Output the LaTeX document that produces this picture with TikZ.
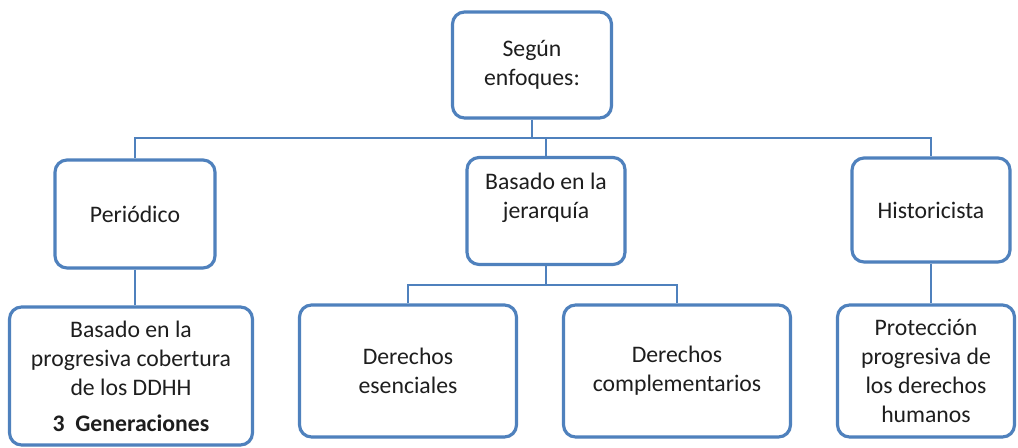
\documentclass[tikz,border=0pt]{standalone}
\usepackage{fontspec}
\setmainfont{Carlito}
\usetikzlibrary{shadows}
\definecolor{rahmen}{RGB}{79,129,189}
\definecolor{schrift}{RGB}{30,30,30}
\tikzset{
	kasten/.style={draw=rahmen, line width=1.8pt, fill=white, rounded corners=0.24cm,
		align=center, text=schrift, font=\fontsize{13.5}{16.5}\selectfont,
		drop shadow={opacity=0.2, shadow xshift=0.6pt, shadow yshift=-0.8pt}},
	linie/.style={draw=rahmen, line width=1.5pt}
}
\begin{document}
\begin{tikzpicture}[x=0.02cm, y=-0.02cm]
	\useasboundingbox (0,0) rectangle (1018,448);
	% Ebene oben
	\node[kasten, minimum width=3.18cm, minimum height=2.12cm] (root) at (532,65) {Según\\enfoques:};
	% Ebene Mitte
	\node[kasten, minimum width=3.2cm, minimum height=2.16cm] (periodico) at (135,214) {Periódico};
	\node[kasten, minimum width=3.16cm, minimum height=2.14cm] (jerarquia) at (546,211) {Basado en la\\jerarquía\\[-0.3em]\strut};
	\node[kasten, minimum width=3.16cm, minimum height=2.08cm] (historicista) at (931,210) {Historicista};
	% Ebene unten
	\node[kasten, minimum width=4.86cm, minimum height=2.76cm] (cobertura) at (131,376)
		{Basado en la\\progresiva cobertura\\de los DDHH\\[4pt]\textbf{3\ \ Generaciones}};
	\node[kasten, minimum width=4.34cm, minimum height=2.64cm] (esenciales) at (408,371) {Derechos\\esenciales};
	\node[kasten, minimum width=4.54cm, minimum height=2.64cm] (complementarios) at (677,371) {Derechos\\complementarios};
	\node[kasten, minimum width=3.54cm, minimum height=2.64cm] (proteccion) at (926,371)
		{Protección\\progresiva de\\los derechos\\humanos};
	% Verbindungen
	\coordinate (bus) at (0,138);
	\coordinate (bus2) at (0,285);
	\draw[linie] (root.south) -- (root.south |- bus);
	\draw[linie] (periodico.north) -- (periodico.north |- bus) -- (historicista.north |- bus) -- (historicista.north);
	\draw[linie] (jerarquia.north) -- (jerarquia.north |- bus);
	\draw[linie] (periodico.south) -- (periodico.south |- cobertura.north);
	\draw[linie] (historicista.south) -- (historicista.south |- proteccion.north);
	\draw[linie] (jerarquia.south) -- (jerarquia.south |- bus2);
	\draw[linie] (esenciales.north) -- (esenciales.north |- bus2) -- (complementarios.north |- bus2) -- (complementarios.north);
\end{tikzpicture}
\end{document}
